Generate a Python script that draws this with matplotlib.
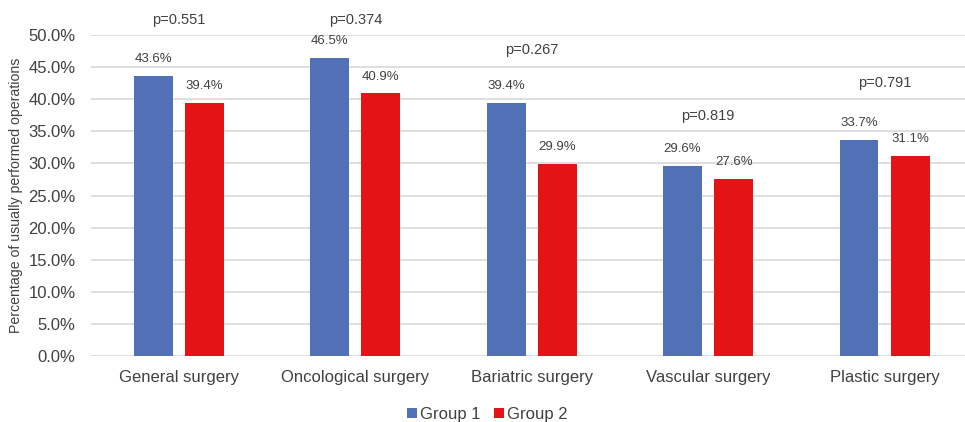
import matplotlib
matplotlib.use("Agg")
import matplotlib.pyplot as plt
import numpy as np

plt.rcParams['font.family'] = ['Liberation Sans', 'DejaVu Sans']

categories = ["General surgery", "Oncological surgery", "Bariatric surgery", "Vascular surgery", "Plastic surgery"]
group1 = [43.6, 46.5, 39.4, 29.6, 33.7]
group2 = [39.4, 40.9, 29.9, 27.6, 31.1]
p_labels = ["p=0.551", "p=0.374", "p=0.267", "p=0.819", "p=0.791"]
p_ypos = [52.3, 52.3, 47.6, 37.4, 42.5]

c1 = "#5170B5"
c2 = "#E31316"
tc = "#404040"

fig = plt.figure(figsize=(9.65, 4.22), dpi=100)
ax = fig.add_axes([0.094, 0.156, 0.914, 0.761])

x = np.arange(len(categories))
w = 0.22
off = 0.145
b1 = ax.bar(x - off, group1, w, color=c1, label="Group 1", zorder=3)
b2 = ax.bar(x + off, group2, w, color=c2, label="Group 2", zorder=3)

for xi, v in zip(x - off, group1):
    ax.text(xi, v + 1.7, f"{v:.1f}%", ha="center", va="bottom", fontsize=9.5, color=tc)
for xi, v in zip(x + off, group2):
    ax.text(xi, v + 1.7, f"{v:.1f}%", ha="center", va="bottom", fontsize=9.5, color=tc)
for xi, lab, yp in zip(x, p_labels, p_ypos):
    ax.text(xi, yp, lab, ha="center", va="center", fontsize=10.5, color=tc, clip_on=False)

ax.set_ylim(0, 50)
ax.set_xlim(-0.5, len(categories) - 0.5)
ax.set_yticks(np.arange(0, 50.1, 5))
ax.set_yticklabels([f"{t:.1f}%" for t in np.arange(0, 50.1, 5)])
ax.set_xticks(x)
ax.set_xticklabels(categories)
ax.tick_params(axis='both', length=0, labelsize=12, colors=tc)
ax.tick_params(axis='x', pad=10)
ax.tick_params(axis='y', pad=11)
ax.yaxis.grid(True, color="#D9D9D9", linewidth=1.2, zorder=0)
ax.set_axisbelow(True)
for s in ax.spines.values():
    s.set_visible(False)
ax.set_ylabel("Percentage of usually performed operations", fontsize=10.2, color=tc, labelpad=4)

fig.legend(handles=[b1, b2], loc="lower center", bbox_to_anchor=(0.505, -0.035), ncol=2,
           frameon=False, fontsize=12, handlelength=0.6, handleheight=0.6, handletextpad=0.2,
           columnspacing=0.8, labelcolor=tc)

fig.savefig("out.png", dpi=100)
